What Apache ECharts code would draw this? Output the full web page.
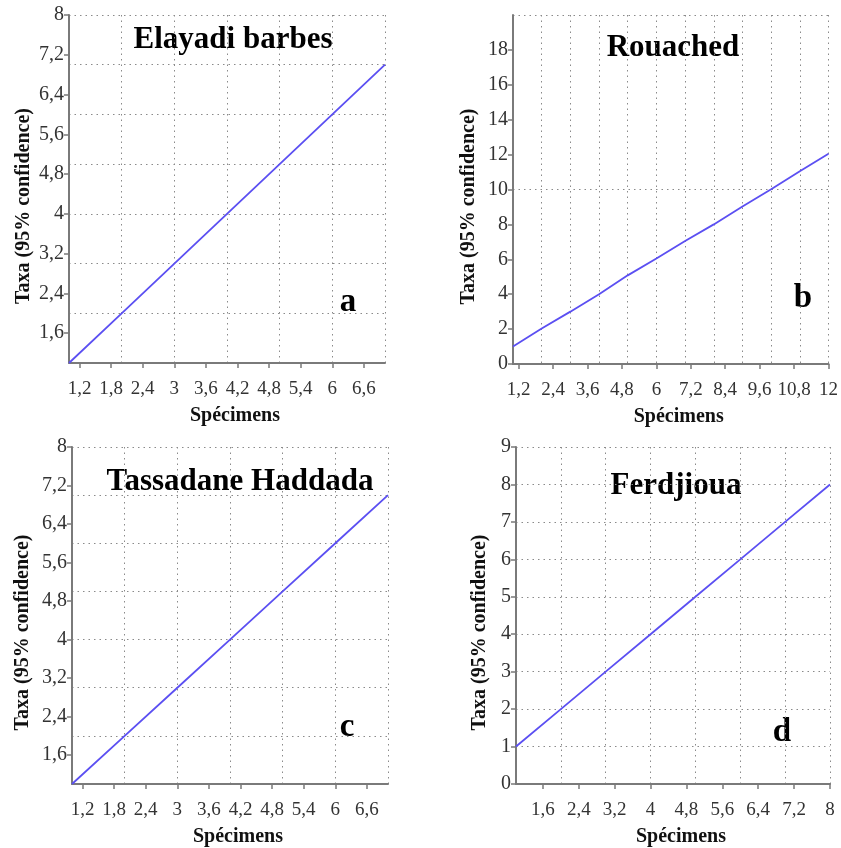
<!DOCTYPE html>
<html>
<head>
<meta charset="utf-8">
<script src="https://cdn.jsdelivr.net/npm/echarts@6/dist/echarts.min.js"></script>
<style>
  html, body { margin: 0; padding: 0; background: #fff; }
  #main { width: 841px; height: 848px; }
</style>
</head>
<body>
<div id="main"></div>
<script>
var mychart = echarts.init(document.getElementById('main'));

// Panel titles and letters
const titles = ['Elayadi barbes', 'Rouached', 'Tassadane Haddada', 'Ferdjioua'];
const letters = ['a', 'b', 'c', 'd'];

// Rarefaction curves: specimens (x) and taxa (y)
const specA = [1, 2, 3, 4, 5, 6, 7];
const taxaA = [1, 2, 3, 4, 5, 6, 7];
const specB = [1, 2, 3, 4, 5, 6, 7, 8, 9, 10, 11, 12];
const taxaB = [1, 2.03, 3, 4, 5.08, 6.05, 7.05, 8, 9.03, 10.02, 11.05, 12.05];
const specC = [1, 2, 3, 4, 5, 6, 7];
const taxaC = [1, 2, 3, 4, 5, 6, 7];
const specD = [1, 2, 3, 4, 5, 6, 7, 8];
const taxaD = [1, 2, 3, 4, 5, 6, 7, 8];

// Tick labels
const xTicksA = [1.2, 1.8, 2.4, 3, 3.6, 4.2, 4.8, 5.4, 6, 6.6];
const yTicksA = [1.6, 2.4, 3.2, 4, 4.8, 5.6, 6.4, 7.2, 8];
const xTicksB = [1.2, 2.4, 3.6, 4.8, 6, 7.2, 8.4, 9.6, 10.8, 12];
const yTicksB = [0, 2, 4, 6, 8, 10, 12, 14, 16, 18];
const xTicksC = [1.2, 1.8, 2.4, 3, 3.6, 4.2, 4.8, 5.4, 6, 6.6];
const yTicksC = [1.6, 2.4, 3.2, 4, 4.8, 5.6, 6.4, 7.2, 8];
const xTicksD = [1.6, 2.4, 3.2, 4, 4.8, 5.6, 6.4, 7.2, 8];
const yTicksD = [0, 1, 2, 3, 4, 5, 6, 7, 8, 9];

const serif = 'Liberation Serif';
const lineColor = '#5b4ff2';

// one entry per panel: grid box, axis ranges (grid line step), data, tick labels
const panels = [
    {grid: {left: 69, top: 15, width: 316, height: 348},
     x: [1, 7, 1], y: [1, 8, 1], spec: specA, taxa: taxaA, xt: xTicksA, yt: yTicksA,
     title: [233, 40], letter: [348, 302], yGap: 35},
    {grid: {left: 513, top: 15, width: 317, height: 349},
     x: [1, 12, 1], y: [0, 20, 10], spec: specB, taxa: taxaB, xt: xTicksB, yt: yTicksB,
     title: [673, 48], letter: [803, 298], yGap: 34},
    {grid: {left: 72, top: 447, width: 316, height: 338},
     x: [1, 7, 1], y: [1, 8, 1], spec: specC, taxa: taxaC, xt: xTicksC, yt: yTicksC,
     title: [240, 482], letter: [347, 727], yGap: 39},
    {grid: {left: 516, top: 447, width: 314, height: 338},
     x: [1, 8, 1], y: [0, 9, 1], spec: specD, taxa: taxaD, xt: xTicksD, yt: yTicksD,
     title: [676, 486], letter: [782, 732], yGap: 26}
];

function fmt(v) {
    return String(+(+v).toFixed(1)).replace('.', ',');
}

var grids = [], xAxes = [], yAxes = [], series = [], graphics = [];

panels.forEach(function (p, i) {
    grids.push(p.grid);
    var split = {show: true, lineStyle: {color: '#8a8a8a', width: 1, type: [1.5, 4]}};
    var axLine = {show: true, lineStyle: {color: '#7a7a7a', width: 2}};
    var tick = {show: true, inside: false, length: 5, lineStyle: {color: '#7a7a7a', width: 1.5}};

    // main axes: axis line + dotted grid
    xAxes.push({
        type: 'value', gridIndex: i, position: 'bottom',
        min: p.x[0], max: p.x[1], interval: p.x[2],
        axisLine: axLine, axisTick: {show: false}, axisLabel: {show: false},
        splitLine: split,
        name: 'Spécimens', nameLocation: 'middle', nameGap: 43,
        nameTextStyle: {fontFamily: serif, fontWeight: 'bold', fontSize: 20, color: '#111',
                        padding: [0, 0, 0, 16]}
    });
    yAxes.push({
        type: 'value', gridIndex: i, position: 'left',
        min: p.y[0], max: p.y[1], interval: p.y[2],
        axisLine: axLine, axisTick: {show: false}, axisLabel: {show: false},
        splitLine: split,
        name: 'Taxa (95% confidence)', nameLocation: 'middle', nameGap: p.yGap,
        nameTextStyle: {fontFamily: serif, fontWeight: 'bold', fontSize: 20, color: '#111',
                        padding: [0, 34, 0, 0]}
    });
    // label axes: ticks and labels at the printed values
    xAxes.push({
        type: 'value', gridIndex: i, position: 'bottom',
        min: p.x[0], max: p.x[1],
        axisLine: {show: false}, splitLine: {show: false},
        axisTick: Object.assign({customValues: p.xt}, tick),
        axisLabel: {customValues: p.xt, margin: 17, formatter: fmt,
                    color: '#333', fontFamily: serif, fontSize: 19}
    });
    yAxes.push({
        type: 'value', gridIndex: i, position: 'left',
        min: p.y[0], max: p.y[1],
        axisLine: {show: false}, splitLine: {show: false},
        axisTick: Object.assign({customValues: p.yt}, tick),
        axisLabel: {customValues: p.yt, margin: 5, formatter: fmt,
                    color: '#333', fontFamily: serif, fontSize: 20}
    });

    var data = [];
    for (var k = 0; k < p.spec.length; k++) {
        data.push([p.spec[k], p.taxa[k]]);
    }
    series.push({
        type: 'line', xAxisIndex: i * 2, yAxisIndex: i * 2,
        data: data, showSymbol: false, symbol: 'none', silent: true,
        lineStyle: {color: lineColor, width: 1.8}
    });

    graphics.push({
        type: 'text', x: p.title[0], y: p.title[1],
        style: {text: titles[i], fontFamily: serif, fontWeight: 'bold', fontSize: 31,
                fill: '#000', align: 'center', verticalAlign: 'middle'}
    });
    graphics.push({
        type: 'text', x: p.letter[0], y: p.letter[1],
        style: {text: letters[i], fontFamily: serif, fontWeight: 'bold', fontSize: 33,
                fill: '#000', align: 'center', verticalAlign: 'middle'}
    });
});

var option = {
    backgroundColor: '#fff',
    animation: false,
    grid: grids,
    xAxis: xAxes,
    yAxis: yAxes,
    series: series,
    graphic: graphics
};

mychart.setOption(option);
</script>
</body>
</html>
